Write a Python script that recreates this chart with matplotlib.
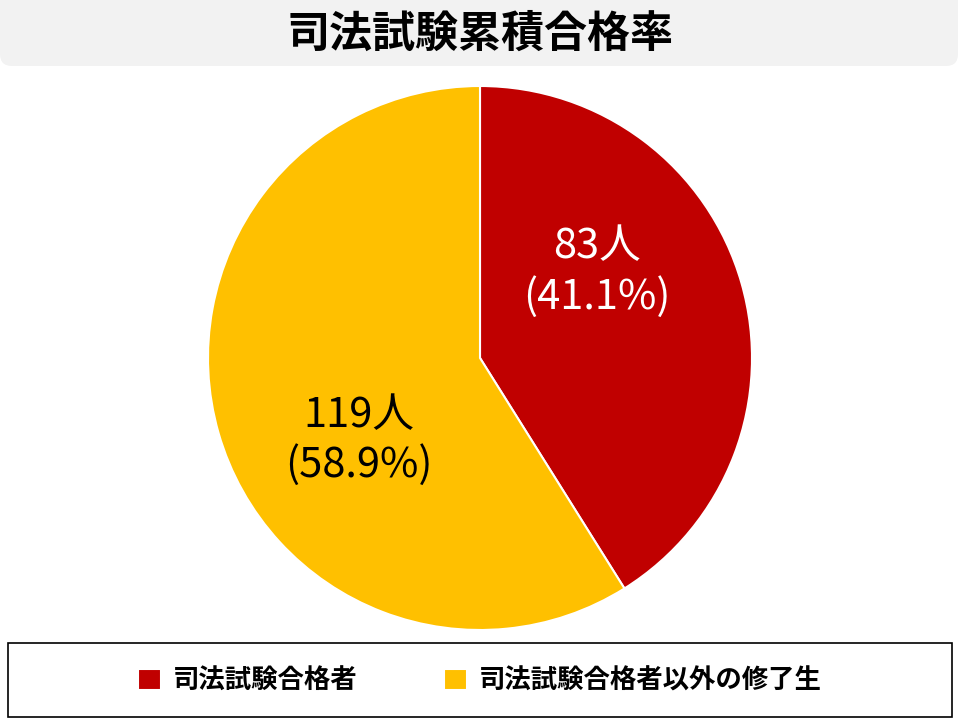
import matplotlib
matplotlib.use("Agg")
import matplotlib.pyplot as plt
from matplotlib.patches import FancyBboxPatch, Rectangle
from matplotlib.transforms import IdentityTransform

plt.rcParams['font.family'] = ['Noto Sans CJK JP', 'DejaVu Sans']

TITLE = "司法試験累積合格率"
labels = ["司法試験合格者", "司法試験合格者以外の修了生"]
counts = [83, 119]
colors = ["#C00000", "#FFC000"]
text_colors = ["white", "black"]

total = sum(counts)
fig = plt.figure(figsize=(9.6, 7.2), dpi=100)

# title band (pixel coords, top edge runs off the figure)
fig.patches.append(FancyBboxPatch((0, 654), 958, 80,
                                  boxstyle="round,pad=0,rounding_size=12",
                                  transform=IdentityTransform(),
                                  facecolor="#F2F2F2", edgecolor="none",
                                  figure=fig))
fig.text(0.5, 686 / 720, TITLE, ha="center", va="center",
         fontsize=31, fontweight="bold")

# pie
ax = fig.add_axes([208 / 960, 90 / 720, 544 / 960, 544 / 720])
wedges, _ = ax.pie(counts, colors=colors, startangle=90, counterclock=False,
                   radius=1, wedgeprops=dict(edgecolor="white", linewidth=1.5))
ax.set_xlim(-1, 1)
ax.set_ylim(-1, 1)
ax.set_aspect("equal")
ax.axis("off")

label_pos = [(0.715, 0.658), (0.278, 0.349)]
for (x, y), n, c in zip(label_pos, counts, text_colors):
    ax.text(x, y, f"{n}人\n({n / total * 100:.1f}%)",
            transform=ax.transAxes, ha="center", va="center",
            fontsize=30, color=c, linespacing=1.25)

# legend box
fig.patches.append(Rectangle((8, 3), 944, 74, transform=IdentityTransform(),
                             facecolor="white", edgecolor="black",
                             linewidth=1.2, figure=fig))
fig.legend(wedges, labels, loc="center", bbox_to_anchor=(0.5, 39 / 720),
           ncol=2, frameon=False, handlelength=0.85, handleheight=0.85,
           handletextpad=0.45, columnspacing=3.3,
           prop=dict(size=19, weight="bold"))

fig.savefig("out.png", dpi=100)
